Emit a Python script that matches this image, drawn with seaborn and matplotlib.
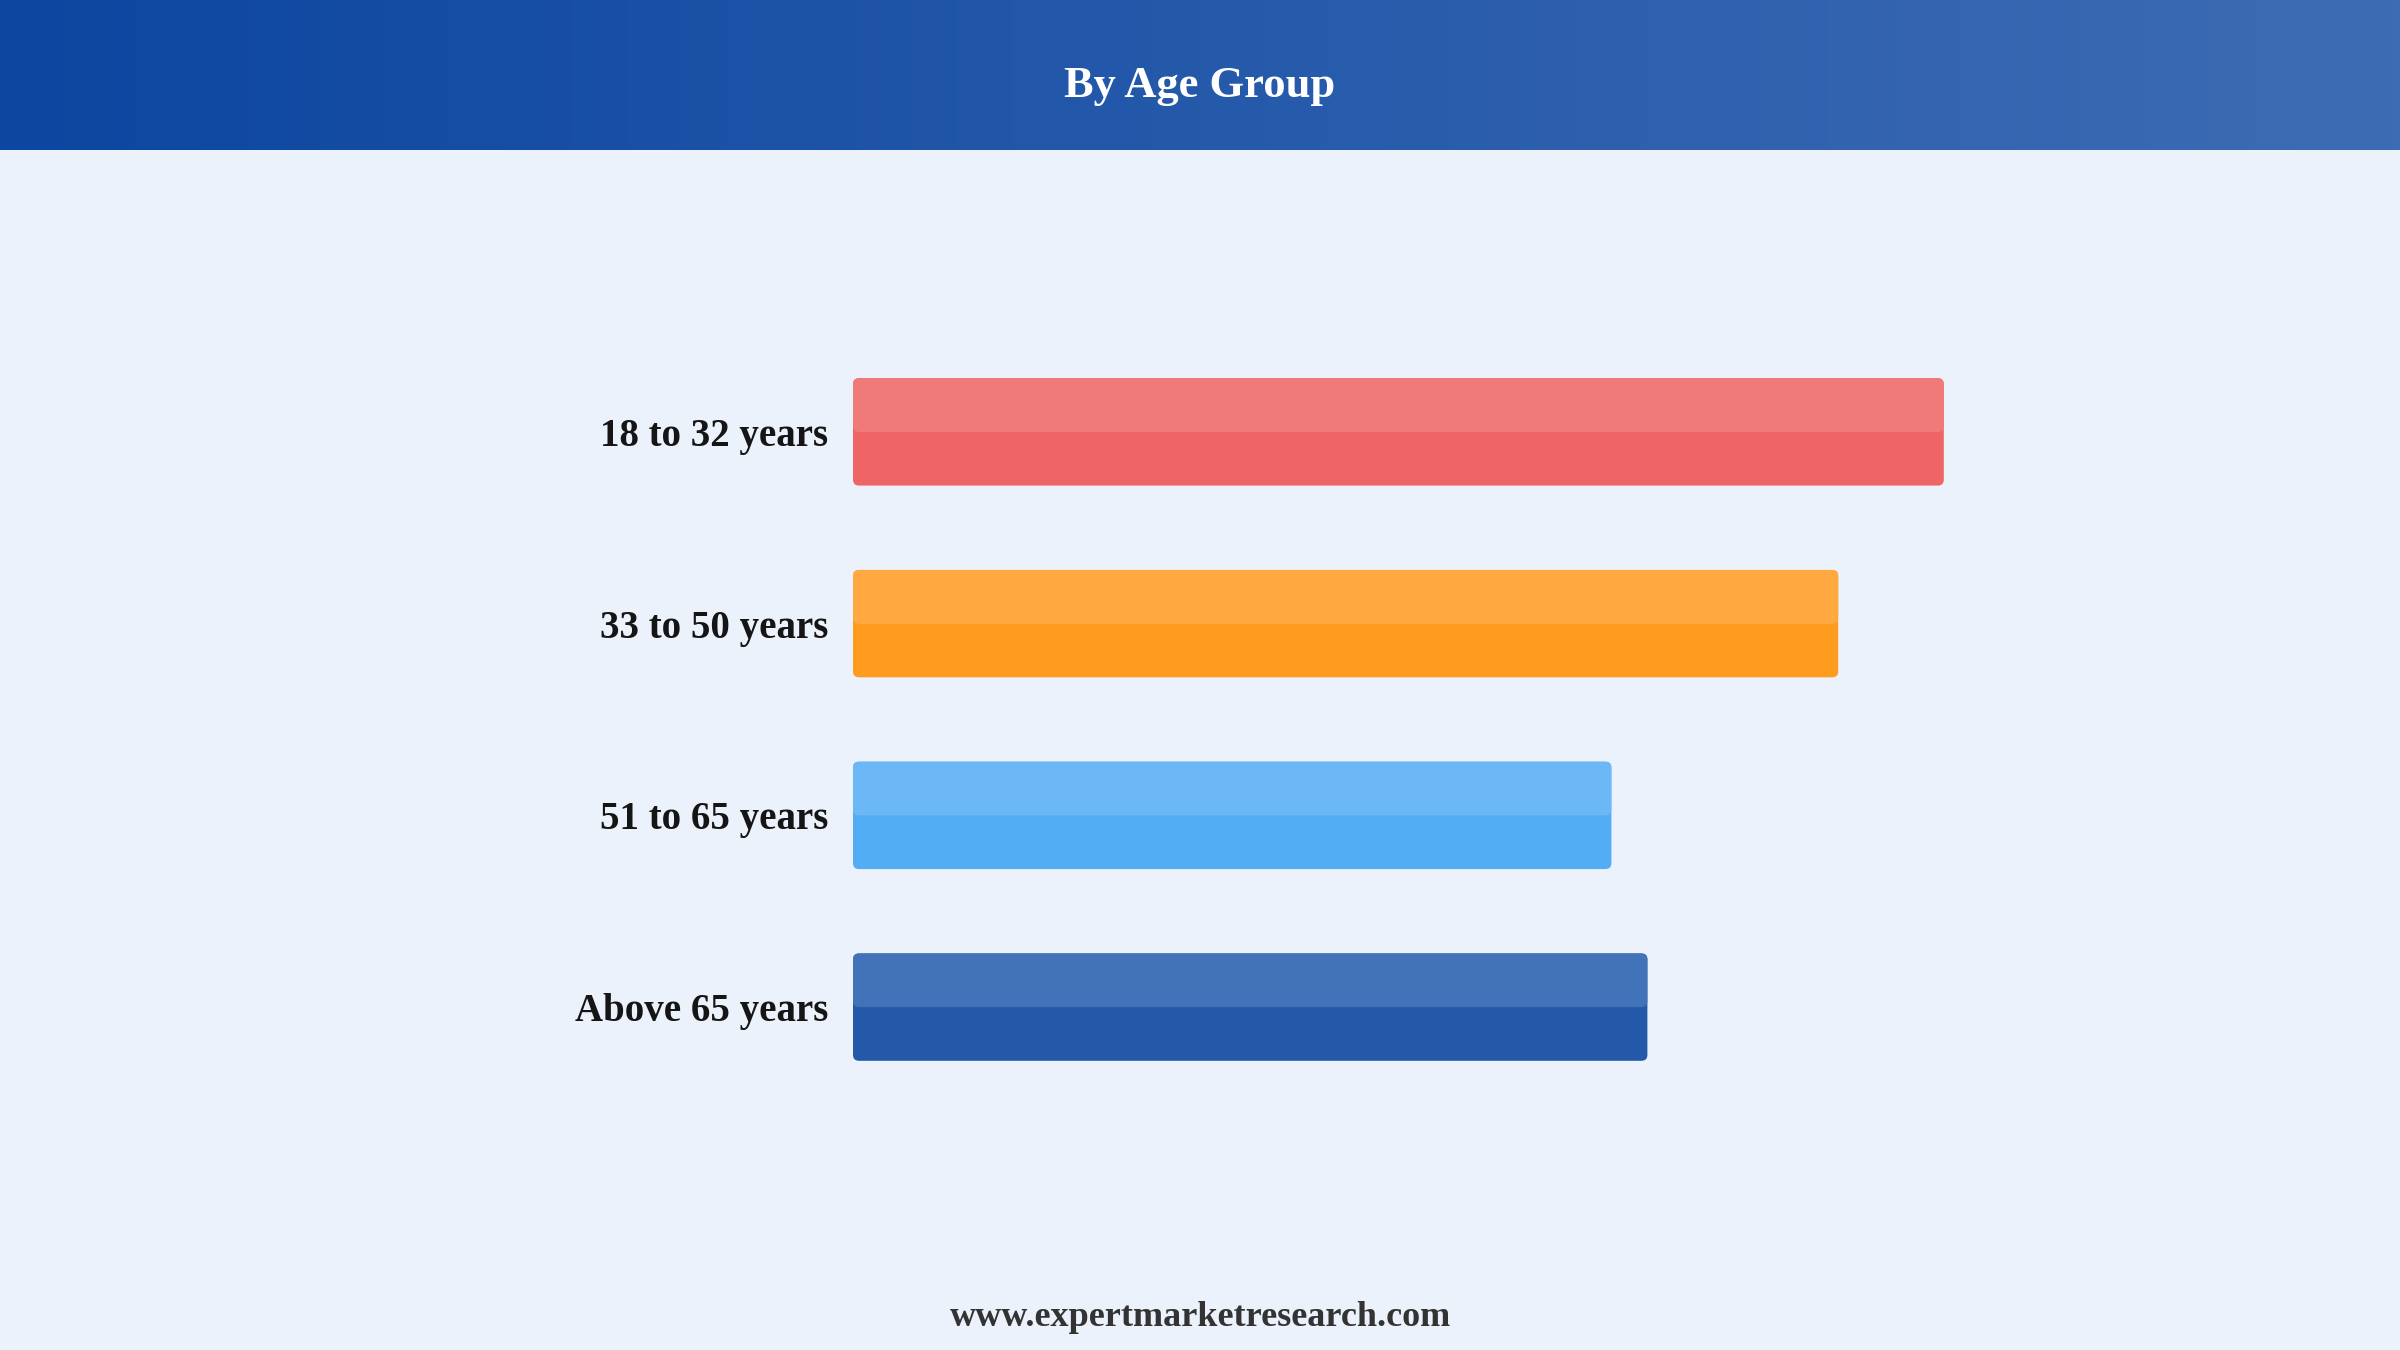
import numpy as np
import pandas as pd
import matplotlib
matplotlib.use("Agg")
import matplotlib.pyplot as plt
import seaborn as sns
from matplotlib.patches import FancyBboxPatch
from matplotlib.colors import LinearSegmentedColormap

# data (relative bar lengths, axis 0..1)
age_groups = ["18 to 32 years", "33 to 50 years", "51 to 65 years", "Above 65 years"]
shares = [0.909, 0.821, 0.632, 0.662]
dark_colors = ["#ef6464", "#ff9b1f", "#52adf4", "#2459aa"]
light_colors = ["#f07979", "#ffa940", "#6cb8f6", "#4272b7"]

title = "By Age Group"
footer = "www.expertmarketresearch.com"
bg = "#ebf2fc"

sns.set_theme(style="white")
plt.rcParams["font.family"] = ["Liberation Serif", "DejaVu Serif"]

fig = plt.figure(figsize=(24, 13.5), dpi=100)
fig.patch.set_facecolor(bg)

# header band with horizontal gradient
hdr = fig.add_axes([0, 1 - 150 / 1350, 1, 150 / 1350])
cmap = LinearSegmentedColormap.from_list("hdr", ["#0c46a0", "#3e6cb4"])
hdr.imshow(np.linspace(0, 1, 256).reshape(1, -1), aspect="auto", cmap=cmap,
           extent=[0, 1, 0, 1])
hdr.set_axis_off()
hdr.text(0.5, 0.43, title, ha="center", va="center", color="white",
         fontsize=32, fontweight="bold", transform=hdr.transAxes)

ax = fig.add_axes([853 / 2400, 1 - 1103 / 1350, 1200 / 2400, 767 / 1350])
ax.set_facecolor(bg)

df = pd.DataFrame({"group": age_groups, "share": shares})
sns.barplot(data=df, x="share", y="group", hue="group", palette=dark_colors,
            legend=False, width=0.56, ax=ax, saturation=1)

ax.set_xlim(0, 1)
ax.set_ylim(3.5, -0.5)

# rounded bars with a lighter top half
rx = 6 / 1200
ry = 6 / 191.75
bars = list(ax.patches)
for p, light, dark in zip(bars, light_colors, dark_colors):
    x0, y0 = p.get_x(), p.get_y()
    w, h = p.get_width(), p.get_height()
    p.remove()
    full = FancyBboxPatch((x0, y0), w, h,
                          boxstyle=f"round,pad=0,rounding_size={rx}",
                          mutation_aspect=ry / rx, facecolor=dark,
                          edgecolor="none", zorder=2)
    ax.add_patch(full)
    top = FancyBboxPatch((x0, y0), w, h / 2,
                         boxstyle=f"round,pad=0,rounding_size={rx}",
                         mutation_aspect=ry / rx, facecolor=light,
                         edgecolor="none", zorder=3)
    ax.add_patch(top)
    ax.fill_between([x0 + rx, x0 + w - rx], y0 + h / 2 - ry, y0 + h / 2,
                    color=light, linewidth=0, zorder=3)

ax.set_xlabel("")
ax.set_ylabel("")
ax.set_xticks([])
ax.tick_params(axis="y", length=0, pad=18)
for lbl in ax.get_yticklabels():
    lbl.set_fontsize(28)
    lbl.set_fontweight("bold")
    lbl.set_color("#151515")
sns.despine(ax=ax, left=True, bottom=True)

fig.text(0.5, 33 / 1350, footer, ha="center", va="center", fontsize=26,
         fontweight="bold", color="#333333")

fig.savefig("out.png", dpi=100, facecolor=bg)
